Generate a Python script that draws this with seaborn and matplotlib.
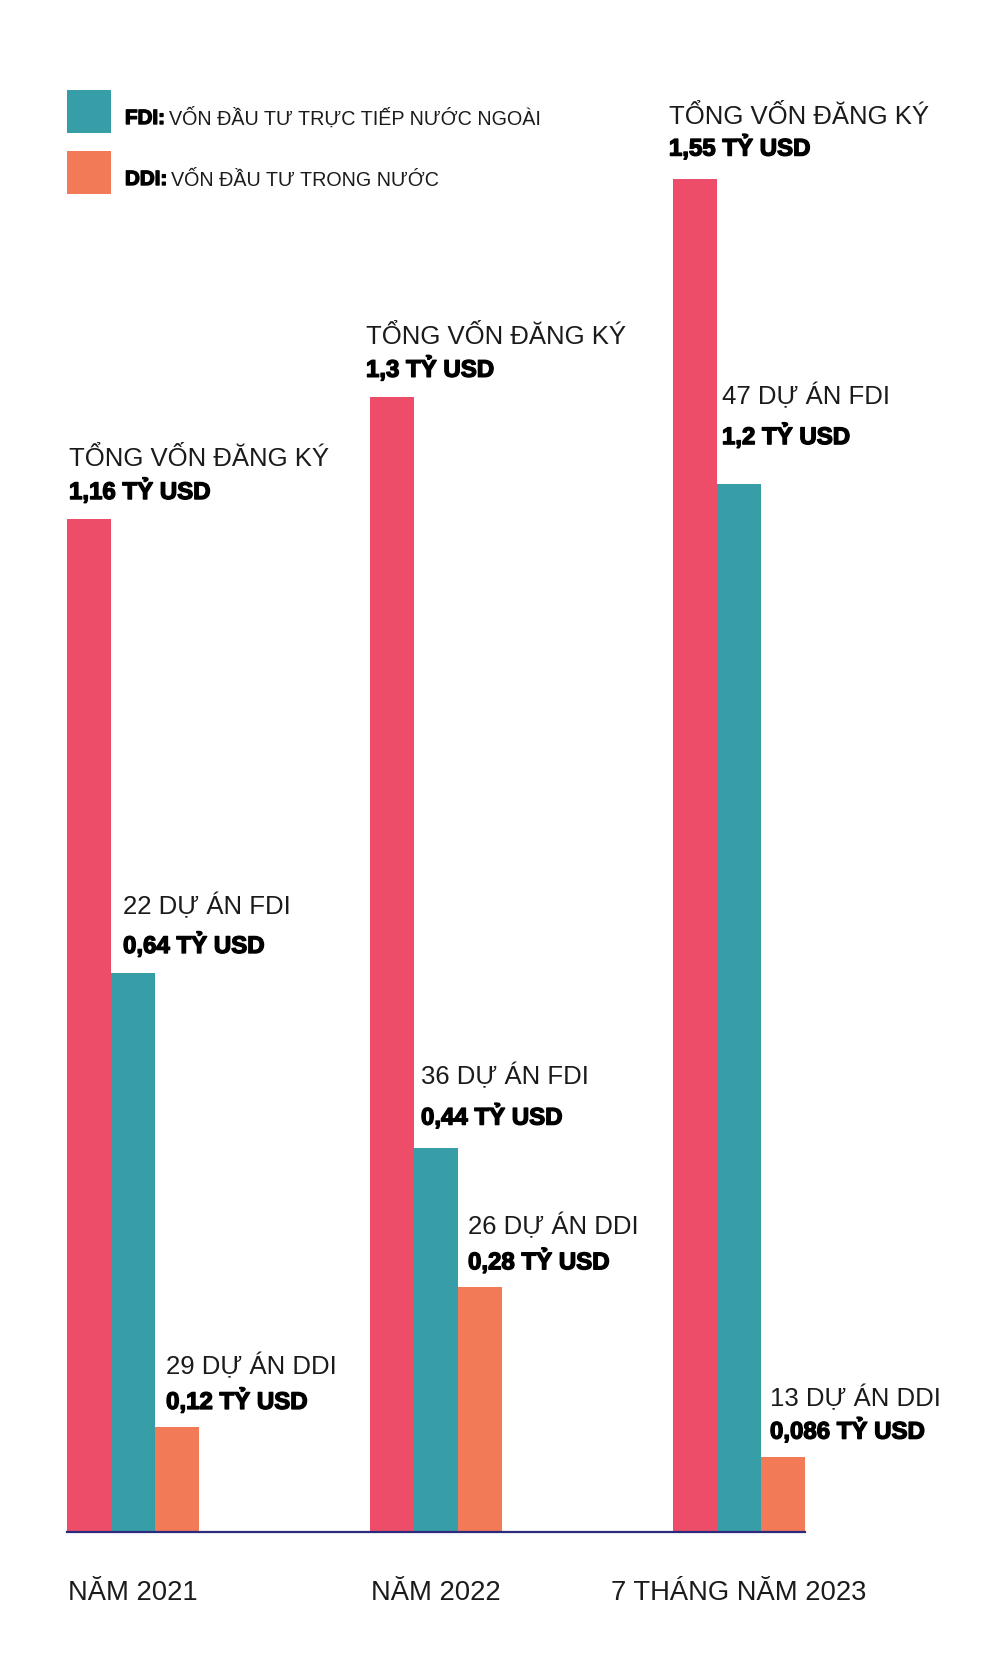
import matplotlib
matplotlib.use("Agg")
import matplotlib.pyplot as plt
import matplotlib.patheffects as pe
import seaborn as sns
import pandas as pd
from matplotlib.patches import Rectangle

# ---------------- data ----------------
categories = ["NĂM 2021", "NĂM 2022", "7 THÁNG NĂM 2023"]
series = ["TỔNG", "FDI", "DDI"]
total_vals = [1.16, 1.3, 1.55]
fdi_vals = [0.64, 0.44, 1.2]
ddi_vals = [0.12, 0.28, 0.086]
fdi_projects = [22, 36, 47]
ddi_projects = [29, 26, 13]
legend_labels = [("FDI:", "VỐN ĐẦU TƯ TRỰC TIẾP NƯỚC NGOÀI"),
                 ("DDI:", "VỐN ĐẦU TƯ TRONG NƯỚC")]

# ---------------- style ----------------
PINK = "#EE4D6A"
TEAL = "#379EA8"
ORANGE = "#F27A57"
NAVY = "#2C2A7C"
TXT = "#1b1b1b"
palette = [PINK, TEAL, ORANGE]

W, H = 1000, 1674
BASE_PX = 1532.7          # baseline y (from top)
PX_PER_UNIT = 873.0

sns.set_theme(style="white")
plt.rcParams["font.family"] = ["Liberation Sans", "DejaVu Sans"]

df = pd.DataFrame({
    "cat": categories * 3,
    "series": [s for s in series for _ in categories],
    "value": total_vals + fdi_vals + ddi_vals,
})

fig = plt.figure(figsize=(W / 100, H / 100), dpi=100)
ax = fig.add_axes([67 / W, (H - BASE_PX) / H, 738 / W, BASE_PX / H])

sns.barplot(data=df, x="cat", y="value", hue="series", order=categories,
            hue_order=series, palette=palette, width=0.436, saturation=1,
            errorbar=None, legend=False, linewidth=0, ax=ax)

ax.set_xlim(-0.218, 2.218)
ax.set_ylim(0, BASE_PX / PX_PER_UNIT)
ax.set_xlabel("")
ax.set_ylabel("")
ax.set_yticks([])
for s in ["left", "top", "right"]:
    ax.spines[s].set_visible(False)
ax.spines["bottom"].set_color(NAVY)
ax.spines["bottom"].set_linewidth(1.6)
ax.tick_params(axis="x", length=0, pad=34, labelsize=19.7, labelcolor=TXT)

# ---------------- bar labels ----------------
def fmt(v):
    return str(v).replace(".", ",") + " TỶ USD"

titles = [["TỔNG VỐN ĐĂNG KÝ"] * 3,
          [f"{n} DỰ ÁN FDI" for n in fdi_projects],
          [f"{n} DỰ ÁN DDI" for n in ddi_projects]]
values = [[fmt(v) for v in total_vals],
          [fmt(v) for v in fdi_vals],
          [fmt(v) for v in ddi_vals]]

# layout offsets (pixels): horizontal shift, title baseline, value baseline
label_dx = [[2, -4, -4], [12, 7, 5], [11, 10, 9]]
title_dy = [[54, 54, 56], [60, 64, 81], [54, 54, 51]]
value_dy = [[20, 20, 23], [20, 23, 40], [18, 18, 18]]

heavy = [pe.withStroke(linewidth=1.0, foreground="#000000")]

for i, cont in enumerate(ax.containers):
    for j, bar in enumerate(cont):
        x = bar.get_x()
        h = bar.get_height()
        ax.annotate(titles[i][j], xy=(x, h), xytext=(label_dx[i][j], title_dy[i][j]),
                    textcoords="offset pixels", ha="left", va="baseline",
                    fontsize=18.5, color=TXT, annotation_clip=False)
        ax.annotate(values[i][j], xy=(x, h), xytext=(label_dx[i][j], value_dy[i][j]),
                    textcoords="offset pixels", ha="left", va="baseline",
                    fontsize=17.3, fontweight="bold", color="#000000",
                    annotation_clip=False, path_effects=heavy)

# ---------------- legend ----------------
renderer = fig.canvas.get_renderer()
legend_colors = [TEAL, ORANGE]
sq_tops = [91, 152]
baselines = [125, 186]
for (bold, rest), col, top, bl in zip(legend_labels, legend_colors, sq_tops, baselines):
    fig.add_artist(Rectangle((67 / W, 1 - (top + 43) / H), 44 / W, 43 / H,
                             transform=fig.transFigure, color=col, lw=0))
    t = fig.text(125 / W, 1 - bl / H, bold, fontsize=14.8, fontweight="bold",
                 color="#000000", va="baseline", ha="left", path_effects=heavy)
    x1 = t.get_window_extent(renderer).x1
    fig.text((x1 + 4) / W, 1 - bl / H, rest, fontsize=14.2, color=TXT,
             va="baseline", ha="left")

fig.savefig("out.png", dpi=100, facecolor="white")
